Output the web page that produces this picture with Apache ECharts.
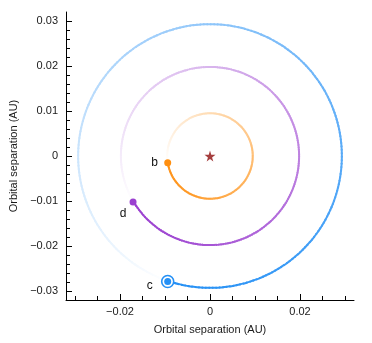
<!DOCTYPE html>
<html><head><meta charset="utf-8">
<script src="https://cdn.jsdelivr.net/npm/echarts@6/dist/echarts.min.js"></script>
<style>html,body{margin:0;padding:0;background:#fff}#c{width:372px;height:343px}</style>
</head><body><div id="c"></div>
<script>
// ---- data ----
const planetNames = ['b', 'd', 'c'];
const planetX = [-0.0094, -0.0171, -0.0094];
const planetY = [-0.0015, -0.0102, -0.0279];
const orbitRadius = [0.0095, 0.0198, 0.0293];
const starX = [0];
const starY = [0];
const xMajorTicks = [-0.02, 0, 0.02];
const xMinorTicks = [-0.03, -0.025, -0.015, -0.01, -0.005, 0.005, 0.01, 0.015, 0.025, 0.03];
const yMajorTicks = [-0.03, -0.02, -0.01, 0, 0.01, 0.02, 0.03];
const yMinorTicks = [-0.028, -0.026, -0.024, -0.022, -0.018, -0.016, -0.014, -0.012,
  -0.008, -0.006, -0.004, -0.002, 0.002, 0.004, 0.006, 0.008,
  0.012, 0.014, 0.016, 0.018, 0.022, 0.024, 0.026, 0.028];
const axisTitle = 'Orbital separation (AU)';

// ---- styles ----
const planetColors = ['#FF8F10', '#9B40D0', '#2590F5'];
const labelOffsets = [[-13, 0], [-10, 11.5], [-18, 4.5]];
const FONT = 'Liberation Sans, Arial, Helvetica, sans-serif';

function hexToRgb(h) {
  return [parseInt(h.slice(1, 3), 16), parseInt(h.slice(3, 5), 16), parseInt(h.slice(5, 7), 16)];
}
function mixWhite(h, a) {
  const c = hexToRgb(h);
  return 'rgb(' + c.map(v => Math.round(v * a + 255 * (1 - a))).join(',') + ')';
}
function fmt(v) {
  if (Math.abs(v) < 1e-12) return '0';
  return (v < 0 ? '\u2212' : '') + String(Math.abs(+(+v).toFixed(3)));
}

const chart = echarts.init(document.getElementById('c'), null, {renderer: 'canvas'});

const orbitData = orbitRadius.map((r, i) => [r, planetX[i], planetY[i]]);

function renderOrbit(params, api) {
  const i = params.dataIndex;
  const r = api.value(0);
  const c = api.coord([0, 0]);
  const p = api.coord([api.value(1), api.value(2)]);
  const rp = api.size([r, r])[0];
  const a0 = Math.atan2(p[1] - c[1], p[0] - c[0]);
  const N = 240;
  const children = [];
  const step = 2 * Math.PI / N;
  for (let k = N - 1; k >= 0; k--) {
    const t = (k + 0.5) / N;
    const alpha = Math.max(0, 1 - Math.pow(t, 1.2));
    children.push({
      type: 'arc',
      shape: {cx: c[0], cy: c[1], r: rp, startAngle: a0 - k * step, endAngle: a0 - (k + 1.4) * step, clockwise: false},
      style: {stroke: mixWhite(planetColors[i], alpha), lineWidth: 2, fill: null, lineCap: 'butt'},
      silent: true
    });
  }
  return {type: 'group', children: children};
}

const starPath = 'path://M50,0 L61,35 L98,35 L68,57 L79,91 L50,70 L21,91 L32,57 L2,35 L39,35 Z';

const baseAxis = {
  type: 'value', min: -0.032, max: 0.032,
  splitLine: {show: false}
};

const option = {
  animation: false,
  backgroundColor: '#fff',
  grid: {left: 66, right: 18, top: 12, bottom: 43, containLabel: false},
  xAxis: [
    Object.assign({}, baseAxis, {
      position: 'bottom',
      axisLine: {show: true, onZero: false, lineStyle: {color: '#000', width: 1}},
      axisTick: {show: true, inside: true, length: 6, customValues: xMajorTicks, lineStyle: {color: '#000', width: 1}},
      axisLabel: {show: true, customValues: xMajorTicks, formatter: fmt, color: '#1a1a1a', fontSize: 11, fontFamily: FONT, margin: 6},
      name: axisTitle, nameLocation: 'middle', nameGap: 24,
      nameTextStyle: {color: '#1a1a1a', fontSize: 11, fontFamily: FONT}
    }),
    Object.assign({}, baseAxis, {
      position: 'bottom', offset: 0,
      axisLine: {show: false, onZero: false},
      axisTick: {show: true, inside: true, length: 4, customValues: xMinorTicks, lineStyle: {color: '#000', width: 1}},
      axisLabel: {show: false}
    })
  ],
  yAxis: [
    Object.assign({}, baseAxis, {
      position: 'left',
      axisLine: {show: true, onZero: false, lineStyle: {color: '#000', width: 1}},
      axisTick: {show: true, inside: true, length: 6, customValues: yMajorTicks, lineStyle: {color: '#000', width: 1}},
      axisLabel: {show: true, customValues: yMajorTicks, formatter: fmt, color: '#1a1a1a', fontSize: 11, fontFamily: FONT, margin: 8},
      name: axisTitle, nameLocation: 'middle', nameGap: 47, nameRotate: 90,
      nameTextStyle: {color: '#1a1a1a', fontSize: 11, fontFamily: FONT}
    }),
    Object.assign({}, baseAxis, {
      position: 'left', offset: 0,
      axisLine: {show: false, onZero: false},
      axisTick: {show: true, inside: true, length: 4, customValues: yMinorTicks, lineStyle: {color: '#000', width: 1}},
      axisLabel: {show: false}
    })
  ],
  series: [
    {
      type: 'custom', coordinateSystem: 'cartesian2d', xAxisIndex: 0, yAxisIndex: 0,
      renderItem: renderOrbit, data: orbitData, encode: {x: 1, y: 2}, clip: false, silent: true
    },
    {
      type: 'scatter', xAxisIndex: 0, yAxisIndex: 0, silent: true,
      symbol: starPath, symbolSize: 11, itemStyle: {color: '#8E0E0E'},
      data: starX.map((x, i) => [x, starY[i]])
    },
    {
      type: 'scatter', xAxisIndex: 0, yAxisIndex: 0, silent: true, z: 5,
      data: planetNames.map((n, i) => ({
        value: [planetX[i], planetY[i]],
        name: n,
        symbolSize: i === 2 ? 12 : 7,
        itemStyle: i === 2 ? {color: '#fff', borderColor: planetColors[i], borderWidth: 1.6, opacity: 1}
                           : {color: planetColors[i], opacity: 1},
        label: {show: true, position: 'inside', offset: labelOffsets[i], formatter: n,
                color: '#111', fontSize: 12, fontFamily: FONT}
      }))
    },
    {
      type: 'scatter', xAxisIndex: 0, yAxisIndex: 0, silent: true, z: 6,
      symbolSize: 7, itemStyle: {color: planetColors[2], opacity: 1},
      data: [[planetX[2], planetY[2]]]
    }
  ]
};
chart.setOption(option);
</script></body></html>
